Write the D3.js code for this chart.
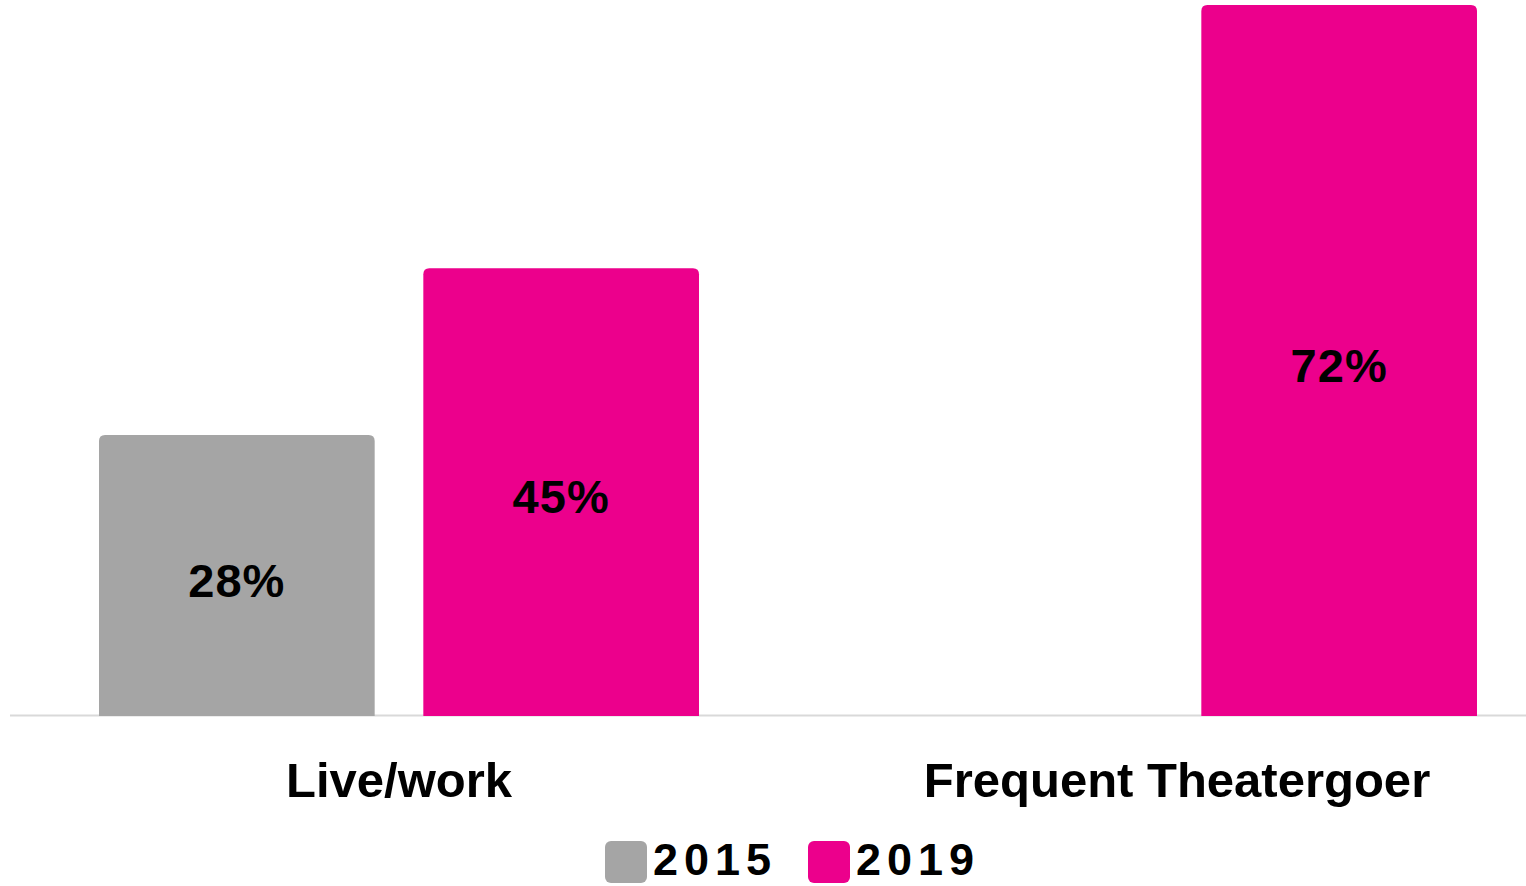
<!DOCTYPE html>
<html>
<head>
<meta charset="utf-8">
<script src="https://cdn.jsdelivr.net/npm/d3@7"></script>
<style>
  html, body { margin: 0; padding: 0; background: #fff; }
  svg { display: block; }
  text { font-family: "Liberation Sans", Arial, sans-serif; font-weight: bold; fill: #000; }
</style>
</head>
<body>
<svg id="chart" width="1526" height="886"></svg>
<script>
const categories = ["Live/work", "Frequent Theatergoer"];
const seriesNames = ["2015", "2019"];
const values2015 = [28.4, null];
const values2019 = [45.3, 72];
const colors = ["#a5a5a5", "#ec008c"];

const seriesValues = [values2015, values2019];
const svg = d3.select("#chart");
const baseY = 715;

const x0 = d3.scaleBand().domain(categories).range([10, 1566]).paddingInner(0.2288).paddingOuter(0.1144);
const x1 = d3.scaleBand().domain(seriesNames).range([0, x0.bandwidth()]).paddingInner(0.15).paddingOuter(0);
const y = d3.scaleLinear().domain([0, 72]).range([baseY, 5]);

// baseline
svg.append("line").attr("x1", 10).attr("x2", 1526).attr("y1", baseY + 0.5).attr("y2", baseY + 0.5)
  .attr("stroke", "#d9d9d9").attr("stroke-width", 2);

function topRounded(x, yTop, w, h, r) {
  return `M${x},${yTop + h}V${yTop + r}Q${x},${yTop} ${x + r},${yTop}H${x + w - r}Q${x + w},${yTop} ${x + w},${yTop + r}V${yTop + h}Z`;
}

const data = [];
categories.forEach((c, i) => {
  seriesNames.forEach((s, j) => {
    const v = seriesValues[j][i];
    if (v != null) data.push({ c, s, v, color: colors[j] });
  });
});

const g = svg.append("g");
g.selectAll("path.bar").data(data).join("path").attr("class", "bar")
  .attr("fill", d => d.color)
  .attr("d", d => {
    const xx = x0(d.c) + x1(d.s);
    const yt = y(d.v);
    return topRounded(xx, yt, x1.bandwidth(), baseY + 1 - yt, 6);
  });

g.selectAll("text.val").data(data).join("text").attr("class", "val")
  .attr("x", d => x0(d.c) + x1(d.s) + x1.bandwidth() / 2)
  .attr("y", d => (y(d.v) + baseY) / 2)
  .attr("dy", "0.46em")
  .attr("text-anchor", "middle")
  .style("font-size", "47px")
  .style("letter-spacing", "1px")
  .text(d => Math.round(d.v) + "%");

// category axis labels
svg.selectAll("text.cat").data(categories).join("text").attr("class", "cat")
  .attr("x", d => x0(d) + x0.bandwidth() / 2)
  .attr("y", 797)
  .attr("text-anchor", "middle")
  .style("font-size", "49px")
  .text(d => d);

// legend
const legendX = [605, 808];
const lg = svg.selectAll("g.leg").data(seriesNames).join("g").attr("class", "leg")
  .attr("transform", (d, i) => `translate(${legendX[i]},841)`);
lg.append("rect").attr("width", 42).attr("height", 42).attr("rx", 6).attr("fill", (d, i) => colors[i]);
lg.append("text").attr("x", 48).attr("y", 34)
  .style("font-size", "45px").style("letter-spacing", "6px")
  .text(d => d);
</script>
</body>
</html>
